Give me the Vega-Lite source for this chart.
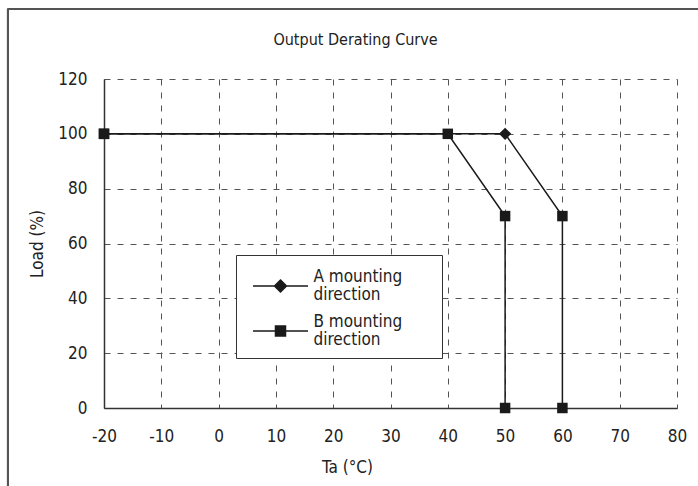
{
  "$schema": "https://vega.github.io/schema/vega-lite/v6.json",
  "width": 573,
  "height": 329,
  "autosize": {"type": "none"},
  "padding": {"left": 104, "top": 79, "right": 21, "bottom": 78},
  "background": "white",
  "title": {
    "text": "Output Derating Curve",
    "font": "DejaVu Sans Condensed",
    "fontSize": 16,
    "fontWeight": "normal",
    "color": "#222",
    "offset": 20,
    "dx": -35,
    "dy": 60
  },
  "config": {
    "view": {"stroke": null},
    "axis": {
      "labelFont": "DejaVu Sans Condensed",
      "titleFont": "DejaVu Sans Condensed",
      "labelFontSize": 17,
      "titleFontSize": 17,
      "titleFontWeight": "normal",
      "labelColor": "#222",
      "titleColor": "#222",
      "labelFlush": false,
      "grid": true,
      "gridDash": [6, 7],
      "gridColor": "#555",
      "gridWidth": 1,
      "domainColor": "#333",
      "domainWidth": 1.5,
      "ticks": false
    }
  },
  "data": {
    "values": [
      {"series": "A", "t": -20, "load": 100},
      {"series": "A", "t": 50, "load": 100},
      {"series": "A", "t": 60, "load": 70},
      {"series": "A", "t": 60, "load": 0},
      {"series": "B", "t": -20, "load": 100},
      {"series": "B", "t": 40, "load": 100},
      {"series": "B", "t": 50, "load": 70},
      {"series": "B", "t": 50, "load": 0}
    ]
  },
  "encoding": {
    "x": {
      "field": "t",
      "type": "quantitative",
      "scale": {"domain": [-20, 80], "nice": false, "zero": false},
      "axis": {
        "title": "Ta (°C)",
        "values": [-20, -10, 0, 10, 20, 30, 40, 50, 60, 70, 80],
        "labelExpr": "'' + datum.value",
        "labelPadding": 20,
        "titleX": 243,
        "titleY": 59,
        "titleBaseline": "middle"
      }
    },
    "y": {
      "field": "load",
      "type": "quantitative",
      "scale": {"domain": [0, 120], "nice": false},
      "axis": {
        "title": "Load (%)",
        "values": [0, 20, 40, 60, 80, 100, 120],
        "labelPadding": 17,
        "titleX": -67,
        "titleBaseline": "middle"
      }
    }
  },
  "layer": [
    {
      "mark": {"type": "rule", "stroke": "#555", "strokeWidth": 1.5, "clip": false},
      "encoding": {
        "x": {"datum": -36.8, "type": "quantitative"},
        "x2": {"datum": 95},
        "y": {"datum": 145.5, "type": "quantitative"}
      }
    },
    {
      "mark": {"type": "rule", "stroke": "#555", "strokeWidth": 1.5, "clip": false},
      "encoding": {
        "x": {"datum": -36.8, "type": "quantitative"},
        "y": {"datum": 145.5, "type": "quantitative"},
        "y2": {"datum": -40}
      }
    },
    {
      "mark": {"type": "line", "strokeWidth": 1.5},
      "encoding": {
        "order": {"value": null},
        "color": {
          "field": "series",
          "type": "nominal",
          "scale": {"range": ["#1a1a1a", "#1a1a1a"]},
          "legend": {
            "orient": "none",
            "legendX": 132,
            "legendY": 176,
            "title": " ",
            "titleFontSize": 1,
            "titlePadding": 9,
            "strokeColor": "#333",
            "fillColor": "white",
            "padding": 10,
            "rowPadding": 10,
            "symbolSize": 400,
            "symbolStrokeWidth": 1.5,
            "symbolOffset": 23.5,
            "labelFont": "DejaVu Sans Condensed",
            "labelFontSize": 17,
            "labelColor": "#222",
            "labelOffset": 22,
            "labelExpr": "[datum.label + ' mounting', 'direction']",
            "encode": {
              "symbols": {
                "update": {
                  "shape": {"signal": "datum.value == 'A' ? 'M-2.75,0H2.75M0,-0.6L0.6,0L0,0.6L-0.6,0ZM14.85,0' : 'M-2.75,0H2.75M-0.5,-0.5H0.5V0.5H-0.5ZM14.85,0'"},
                  "fill": {"value": "#1a1a1a"},
                  "stroke": {"value": "#1a1a1a"},
                  "opacity": {"value": 1}
                }
              },
              "labels": {"update": {"lineHeight": {"value": 18}, "dy": {"value": -9}}}
            }
          }
        }
      }
    },
    {
      "transform": [{"filter": "!(datum.series == 'A' && datum.t == 50)"}],
      "mark": {"type": "point", "shape": "square", "filled": true, "size": 110, "color": "#1a1a1a", "opacity": 1}
    },
    {
      "transform": [{"filter": "datum.series == 'A' && datum.t == 50"}],
      "mark": {"type": "point", "shape": "diamond", "filled": true, "size": 150, "color": "#1a1a1a", "opacity": 1}
    }
  ]
}
